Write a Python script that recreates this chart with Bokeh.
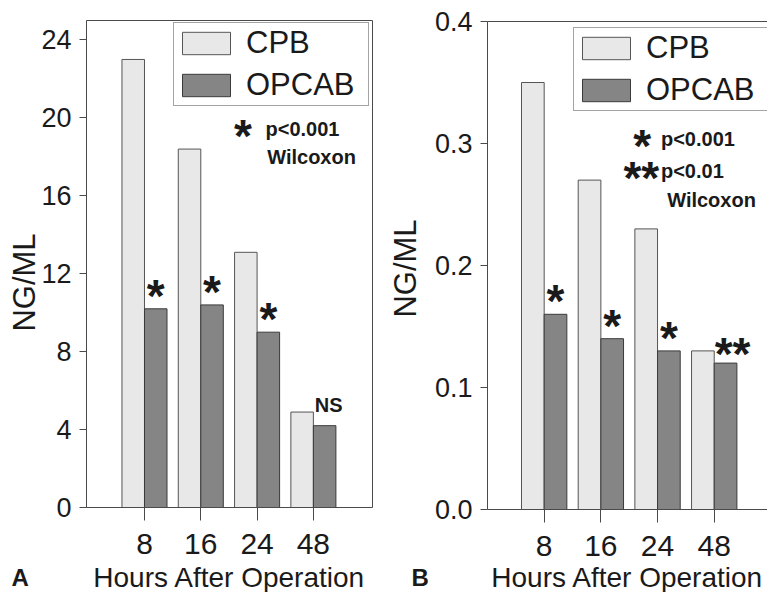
from bokeh.plotting import figure
from bokeh.layouts import row
from bokeh.models import (ColumnDataSource, Range1d, FixedTicker, PrintfTickFormatter, Label,
                          LinearAxis)
from bokeh.transform import dodge
from bokeh.embed import file_html
from bokeh.resources import INLINE
from bokeh.core.properties import field, value
import math

# ---------------- data ----------------
hours = ["8", "16", "24", "48"]
series = ["CPB", "OPCAB"]

cpb_a = [23.0, 18.4, 13.1, 4.9]
opcab_a = [10.2, 10.4, 9.0, 4.2]
sig_a = ["*", "*", "*", "NS"]
yticks_a = [0, 4, 8, 12, 16, 20, 24]

cpb_b = [0.35, 0.27, 0.23, 0.13]
opcab_b = [0.16, 0.14, 0.13, 0.12]
sig_b = ["*", "*", "*", "**"]
yticks_b = [0.0, 0.1, 0.2, 0.3, 0.4]

key_a = [("*", "p<0.001")]
key_b = [("*", "p<0.001"), ("**", "p<0.01")]
key_note = "Wilcoxon"
x_title = "Hours After Operation"
y_title = "NG/ML"
panel_letters = ["A", "B"]

# ---------------- styles ----------------
FONT = "Liberation Sans"
CPB_FILL, CPB_LINE = "#e8e8e8", "#555555"
OP_FILL, OP_LINE = "#858585", "#3a3a3a"
AX = "#4a4a4a"
TXT = "#1a1a1a"
H = 592
# mark -> (font size, x offset px, y offset px)
MARK_STYLE = {"*": ("46px", 0, -13), "**": ("46px", 7, -9), "NS": ("20px", 4, -21)}


def ranges(W, box, xr, yr):
    """Data ranges so that the plotting box (canvas px) shows xr x yr."""
    left, right, top, bottom = box
    kx = (right - left) / (xr[1] - xr[0])
    ky = (bottom - top) / (yr[1] - yr[0])
    return (Range1d(xr[0] - left / kx, xr[1] + (W - right) / kx),
            Range1d(yr[0] - (H - bottom) / ky, yr[1] + top / ky))


def bare_axis(loc, bounds):
    ax = LinearAxis(fixed_location=loc, bounds=bounds, ticker=FixedTicker(ticks=[]),
                    axis_line_color=AX, major_tick_out=0, major_tick_in=0,
                    minor_tick_out=0, minor_tick_in=0)
    return ax


def panel(cpb, opcab, sig, yticks, W, box, xr, yr, fmt, legend_loc, key, key_pos,
          note_pos, letter, letter_xy, ylab_xy, right_border):
    pos = list(range(1, len(hours) + 1))
    src = ColumnDataSource(dict(
        x=pos, cpb=cpb, opcab=opcab, sig=sig,
        size=[MARK_STYLE[s][0] for s in sig],
        xoff=[MARK_STYLE[s][1] for s in sig],
        yoff=[MARK_STYLE[s][2] for s in sig],
    ))
    xrange, yrange = ranges(W, box, xr, yr)
    p = figure(width=W, height=H, x_range=xrange, y_range=yrange, output_backend="svg",
               toolbar_location=None, min_border=0)
    p.grid.visible = False
    p.outline_line_color = None
    p.background_fill_color = "white"
    p.border_fill_color = "white"

    p.vbar(x=dodge("x", -0.2, range=p.x_range), top="cpb", width=0.4, source=src,
           fill_color=CPB_FILL, line_color=CPB_LINE, line_width=1, legend_label=series[0])
    p.vbar(x=dodge("x", 0.2, range=p.x_range), top="opcab", width=0.4, source=src,
           fill_color=OP_FILL, line_color=OP_LINE, line_width=1, legend_label=series[1])

    p.text(x=dodge("x", 0.2, range=p.x_range), y="opcab", text="sig", source=src,
           text_font=value(FONT), text_font_style="bold", text_font_size=field("size"),
           text_align="center", text_baseline="alphabetic",
           x_offset=field("xoff"), y_offset=field("yoff"), text_color=TXT)

    # axes (drawn at fixed data locations)
    xa = p.xaxis[0]
    xa.fixed_location = yr[0]
    xa.bounds = xr
    xa.ticker = FixedTicker(ticks=pos)
    xa.major_label_overrides = {i + 1: h for i, h in enumerate(hours)}
    xa.major_label_text_font = FONT
    xa.major_label_text_font_size = "30px"
    xa.major_label_text_color = TXT
    xa.major_label_standoff = 13
    xa.major_tick_out = 13
    xa.major_tick_in = 0
    xa.minor_tick_out = 0
    xa.minor_tick_in = 0
    xa.axis_line_color = AX
    xa.major_tick_line_color = AX

    ya = p.yaxis[0]
    ya.fixed_location = xr[0]
    ya.bounds = yr
    ya.ticker = FixedTicker(ticks=yticks)
    if fmt:
        ya.formatter = PrintfTickFormatter(format=fmt)
    ya.major_label_text_font = FONT
    ya.major_label_text_font_size = "27px"
    ya.major_label_text_color = TXT
    ya.major_label_standoff = 8
    ya.major_tick_out = 7
    ya.major_tick_in = 0
    ya.minor_tick_out = 0
    ya.minor_tick_in = 0
    ya.axis_line_color = AX
    ya.major_tick_line_color = AX

    p.add_layout(bare_axis(yr[1], xr), "above")
    if right_border:
        p.add_layout(bare_axis(xr[1], yr), "right")

    # axis titles
    cx = (box[0] + box[1]) / 2
    p.add_layout(Label(x=cx, y=H - 577, x_units="screen", y_units="screen", text=x_title,
                       text_font=FONT, text_font_size="28px", text_align="center",
                       text_baseline="alphabetic", text_color=TXT))
    p.add_layout(Label(x=ylab_xy[0], y=H - ylab_xy[1], x_units="screen", y_units="screen",
                       text=y_title, angle=math.pi / 2, text_font=FONT, text_font_size="31px",
                       text_align="center", text_baseline="alphabetic", text_color=TXT))

    # legend
    lg = p.legend[0]
    lg.location = legend_loc
    lg.orientation = "vertical"
    lg.glyph_width = 60
    lg.glyph_height = 28
    lg.label_height = 28
    lg.label_width = 120
    lg.label_standoff = 10
    lg.padding = 2
    lg.spacing = 6
    lg.margin = 0
    lg.label_text_font = FONT
    lg.label_text_font_size = "31px"
    lg.label_text_color = TXT
    lg.border_line_color = AX
    lg.border_line_width = 1.5
    lg.background_fill_alpha = 1.0

    # key text
    for (mark, txt), (mx, px, y) in zip(key, key_pos):
        p.add_layout(Label(x=mx, y=y, text=mark, text_font=FONT, text_font_style="bold",
                           text_font_size="46px", text_align="right" if len(mark) > 1 else "center",
                           text_baseline="alphabetic", y_offset=-7, text_color=TXT))
        p.add_layout(Label(x=px, y=y, text=txt, text_font=FONT, text_font_style="bold",
                           text_font_size="20px", text_baseline="alphabetic", text_color=TXT))
    p.add_layout(Label(x=note_pos[0], y=note_pos[1], text=key_note, text_font=FONT,
                       text_font_style="bold", text_font_size="20px",
                       text_baseline="alphabetic", text_color=TXT))
    # panel letter
    p.add_layout(Label(x=letter_xy[0], y=H - letter_xy[1], x_units="screen", y_units="screen",
                       text=letter, text_font=FONT, text_font_style="bold",
                       text_font_size="24px", text_baseline="alphabetic", text_color=TXT))
    return p


# Panel A (canvas 0..380)
pa = panel(cpb_a, opcab_a, sig_a, yticks_a, 380, (86, 372, 20, 507), (-0.03, 5.05), (0, 25),
           None, (173, 486), key_a, [(2.75, 3.15, 19.43)], (3.18, 18.0),
           panel_letters[0], (11, 577), (23.5, 282), True)

# Panel B (canvas 380..767)
pb = panel(cpb_b, opcab_b, sig_b, yticks_b, 387, (107, 387, 21, 509), (0, 4.94), (0, 0.4),
           "%.1f", (193, 481), key_b,
           [(2.73, 3.06, 0.3036), (3.03, 3.06, 0.2776)], (3.17, 0.2537),
           panel_letters[1], (31, 577), (24.5, 268), False)

layout = row(pa, pb, spacing=0)
open("out.html", "w").write(file_html(layout, INLINE))
